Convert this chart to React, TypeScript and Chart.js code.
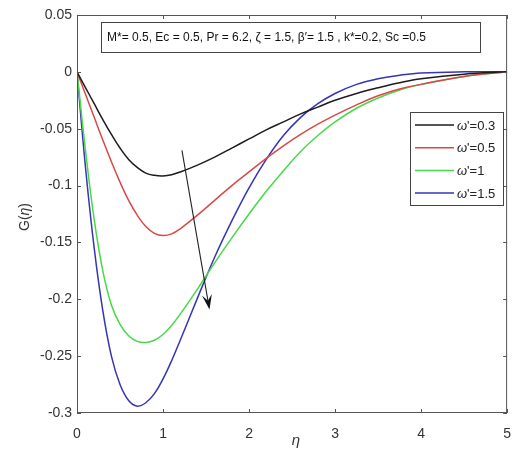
import React, { useEffect, useRef } from "react";
import { Chart, registerables } from "chart.js";

Chart.register(...registerables);

const etaValues = [0, 0.1, 0.2, 0.3, 0.4, 0.5, 0.6, 0.7, 0.8, 0.9, 1.0, 1.1, 1.2, 1.4, 1.6, 1.8, 2.0, 2.2, 2.4, 2.6, 2.8, 3.0, 3.25, 3.5, 3.75, 4.0, 4.5, 5.0];

const g03 = [0, -0.014, -0.028, -0.042, -0.055, -0.067, -0.077, -0.084, -0.089, -0.091, -0.0915, -0.0905, -0.088, -0.082, -0.075, -0.067, -0.059, -0.051, -0.044, -0.037, -0.031, -0.025, -0.019, -0.014, -0.0095, -0.006, -0.002, 0];
const g05 = [0, -0.02, -0.04, -0.06, -0.079, -0.097, -0.113, -0.126, -0.136, -0.142, -0.144, -0.1425, -0.138, -0.126, -0.113, -0.1, -0.088, -0.076, -0.065, -0.055, -0.046, -0.038, -0.029, -0.021, -0.015, -0.011, -0.004, 0];
const g1 = [0, -0.07, -0.13, -0.175, -0.205, -0.222, -0.232, -0.237, -0.238, -0.236, -0.231, -0.223, -0.213, -0.191, -0.168, -0.146, -0.125, -0.105, -0.087, -0.07, -0.056, -0.044, -0.032, -0.023, -0.016, -0.011, -0.004, 0];
const g15 = [0, -0.085, -0.155, -0.21, -0.25, -0.275, -0.289, -0.294, -0.291, -0.283, -0.27, -0.254, -0.236, -0.199, -0.163, -0.131, -0.102, -0.077, -0.056, -0.04, -0.028, -0.019, -0.011, -0.006, -0.003, -0.001, 0, 0];

const seriesLabels = ["0.3", "0.5", "1", "1.5"];
const seriesColors = ["#1c1c1c", "#d94848", "#48d948", "#3535b5"];
const seriesValues = [g03, g05, g1, g15];

const xTicks = [0, 1, 2, 3, 4, 5];
const yTicks = [0.05, 0, -0.05, -0.1, -0.15, -0.2, -0.25, -0.3];

const annotationText = "M*= 0.5, Ec = 0.5, Pr = 6.2, ζ = 1.5, β′= 1.5 , k*=0.2, Sc =0.5";
const arrowFrom = { x: 1.22, y: -0.069 };
const arrowTo = { x: 1.54, y: -0.209 };

const FONT = "'Liberation Sans', Arial, sans-serif";
const TEXT = "#333333";

const decorPlugin = {
  id: "decor",
  afterDatasetsDraw(chart: any) {
    const ctx = chart.ctx as CanvasRenderingContext2D;
    const { left, right, top, bottom } = chart.chartArea;
    const xs = chart.scales.x;
    const ys = chart.scales.y;
    ctx.save();

    // arrow
    const ax1 = xs.getPixelForValue(arrowFrom.x);
    const ay1 = ys.getPixelForValue(arrowFrom.y);
    const ax2 = xs.getPixelForValue(arrowTo.x);
    const ay2 = ys.getPixelForValue(arrowTo.y);
    const ang = Math.atan2(ay2 - ay1, ax2 - ax1);
    ctx.strokeStyle = "#222";
    ctx.fillStyle = "#111";
    ctx.lineWidth = 1.1;
    ctx.beginPath();
    ctx.moveTo(ax1, ay1);
    ctx.lineTo(ax2 - 8 * Math.cos(ang), ay2 - 8 * Math.sin(ang));
    ctx.stroke();
    const hl = 15, hw = 5;
    const bx = ax2 - hl * Math.cos(ang), by = ay2 - hl * Math.sin(ang);
    const nx = -Math.sin(ang), ny = Math.cos(ang);
    const mx = ax2 - hl * 0.6 * Math.cos(ang), my = ay2 - hl * 0.6 * Math.sin(ang);
    ctx.beginPath();
    ctx.moveTo(ax2, ay2);
    ctx.lineTo(bx + hw * nx, by + hw * ny);
    ctx.lineTo(mx, my);
    ctx.lineTo(bx - hw * nx, by - hw * ny);
    ctx.closePath();
    ctx.fill();

    // frame
    ctx.strokeStyle = "#555";
    ctx.lineWidth = 1;
    ctx.strokeRect(left + 0.5, top + 0.5, right - left - 1, bottom - top - 1);
    // inward ticks
    ctx.beginPath();
    for (const v of xTicks) {
      const px = Math.round(xs.getPixelForValue(v)) + 0.5;
      ctx.moveTo(px, bottom);
      ctx.lineTo(px, bottom - 4);
      ctx.moveTo(px, top);
      ctx.lineTo(px, top + 4);
    }
    for (const v of yTicks) {
      const py = Math.round(ys.getPixelForValue(v)) + 0.5;
      ctx.moveTo(left, py);
      ctx.lineTo(left + 4, py);
      ctx.moveTo(right, py);
      ctx.lineTo(right - 4, py);
    }
    ctx.stroke();

    // annotation box
    ctx.fillStyle = "#fff";
    ctx.fillRect(101, 22, 380, 31);
    ctx.strokeStyle = "#444";
    ctx.strokeRect(101.5, 22.5, 379, 30);
    ctx.fillStyle = "#111";
    ctx.font = `12px ${FONT}`;
    ctx.textAlign = "left";
    ctx.textBaseline = "middle";
    ctx.fillText(annotationText, 107, 38);

    // legend
    ctx.fillStyle = "#fff";
    ctx.fillRect(410, 112, 94, 94);
    ctx.strokeStyle = "#444";
    ctx.strokeRect(410.5, 112.5, 93, 93);
    seriesLabels.forEach((lab, i) => {
      const y = 125 + i * 22.7;
      ctx.strokeStyle = seriesColors[i];
      ctx.lineWidth = 1.5;
      ctx.beginPath();
      ctx.moveTo(415, y);
      ctx.lineTo(454, y);
      ctx.stroke();
      ctx.fillStyle = "#222";
      ctx.font = `italic 13px ${FONT}`;
      ctx.textBaseline = "middle";
      ctx.fillText("ω", 457, y + 1);
      const w = ctx.measureText("ω").width;
      ctx.font = `13px ${FONT}`;
      ctx.fillText("'=" + lab, 457 + w, y + 1);
    });

    // axis titles
    ctx.fillStyle = TEXT;
    ctx.font = `italic 15px ${FONT}`;
    ctx.textAlign = "center";
    ctx.textBaseline = "alphabetic";
    ctx.fillText("η", 296, 445);

    ctx.save();
    ctx.translate(29, 217);
    ctx.rotate(-Math.PI / 2);
    ctx.font = `14px ${FONT}`;
    const p1 = "G(", p2 = "η", p3 = ")";
    const w1 = ctx.measureText(p1).width;
    const w3 = ctx.measureText(p3).width;
    ctx.font = `italic 14px ${FONT}`;
    const w2 = ctx.measureText(p2).width;
    const tot = w1 + w2 + w3;
    ctx.textAlign = "left";
    ctx.font = `14px ${FONT}`;
    ctx.fillText(p1, -tot / 2, 0);
    ctx.font = `italic 14px ${FONT}`;
    ctx.fillText(p2, -tot / 2 + w1, 0);
    ctx.font = `14px ${FONT}`;
    ctx.fillText(p3, -tot / 2 + w1 + w2, 0);
    ctx.restore();

    ctx.restore();
  },
};

export default function App() {
  const ref = useRef<HTMLCanvasElement>(null);
  useEffect(() => {
    document.body.style.margin = "0";
    const canvas = ref.current!;
    const chart = new Chart(canvas, {
      type: "line",
      data: {
        datasets: seriesValues.map((vals, i) => ({
          label: "ω'=" + seriesLabels[i],
          data: etaValues.map((x, j) => ({ x, y: vals[j] })),
          borderColor: seriesColors[i],
          borderWidth: 1.5,
          pointRadius: 0,
          fill: false,
          tension: 0.4,
        })),
      },
      options: {
        responsive: false,
        animation: false,
        devicePixelRatio: 1,
        layout: { padding: { top: 15, right: 7, left: 0, bottom: 0 } },
        plugins: { legend: { display: false }, tooltip: { enabled: false } },
        scales: {
          x: {
            type: "linear",
            min: 0,
            max: 5,
            grid: { display: false, drawTicks: false },
            border: { display: false },
            afterFit: (s: any) => { s.height = 42; },
            afterBuildTicks: (s: any) => { s.ticks = xTicks.map((v) => ({ value: v })); },
            ticks: { padding: 13, color: TEXT, font: { family: FONT, size: 14 }, maxRotation: 0, callback: (v: any) => String(v) },
          },
          y: {
            type: "linear",
            min: -0.3,
            max: 0.05,
            grid: { display: false, drawTicks: false },
            border: { display: false },
            afterFit: (s: any) => { s.width = 77; },
            afterBuildTicks: (s: any) => { s.ticks = yTicks.map((v) => ({ value: v })); },
            ticks: { padding: 5, color: TEXT, font: { family: FONT, size: 14 }, callback: (v: any) => String(Number(Number(v).toFixed(2))) },
          },
        },
      },
      plugins: [decorPlugin],
    });
    return () => chart.destroy();
  }, []);
  return (
    <div style={{ position: "absolute", left: 0, top: 0, width: 524, height: 455, background: "#fff" }}>
      <canvas ref={ref} width={524} height={455} style={{ display: "block" }} />
    </div>
  );
}
